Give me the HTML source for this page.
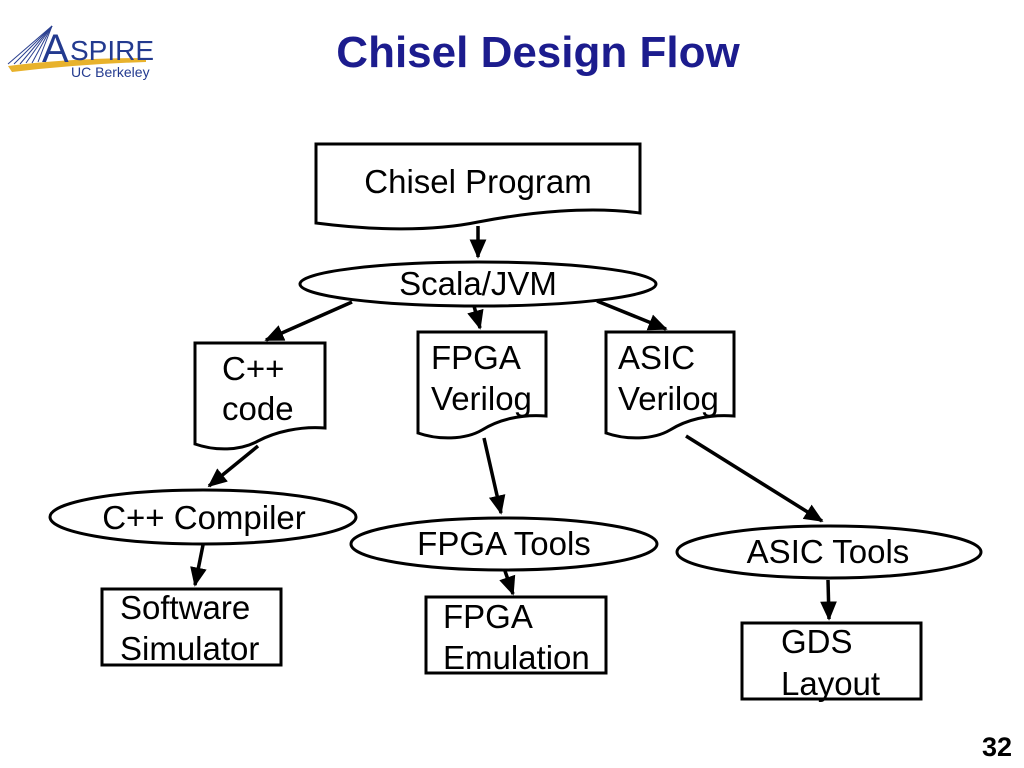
<!DOCTYPE html>
<html><head><meta charset="utf-8"><style>
body{margin:0;background:#fff;}
svg{display:block}
text{font-family:"Liberation Sans",sans-serif;}
</style></head><body>
<svg width="1024" height="768" viewBox="0 0 1024 768" xmlns="http://www.w3.org/2000/svg">
<defs><marker id="a" markerWidth="6" markerHeight="6" refX="5" refY="3" orient="auto" markerUnits="strokeWidth"><path d="M0,0.6 L5.5,3 L0,5.4 Z" fill="#000"/></marker></defs>
<g>
<path d="M8,66 Q70,58 146,58 L146,62 Q80,64 12,72 Z" fill="#e8b22c"/>
<g stroke="#2a3f8f" stroke-width="1"><line x1="52" y1="26" x2="8" y2="64"/><line x1="52" y1="26" x2="14" y2="64"/><line x1="52" y1="26" x2="20" y2="64"/><line x1="52" y1="26" x2="26" y2="63"/><line x1="52" y1="26" x2="32" y2="63"/><line x1="52" y1="26" x2="38" y2="62"/></g>
<text x="42" y="62" font-family="Liberation Serif,serif" font-size="40" fill="#233a8f">A</text>
<text x="70" y="60" font-family="Liberation Serif,serif" font-size="28" fill="#233a8f">SPIRE</text>
<text x="71" y="77" font-size="14" fill="#233a8f">UC Berkeley</text>
</g>
<text x="538" y="67" text-anchor="middle" font-size="44" font-weight="bold" fill="#1c1c8e">Chisel Design Flow</text>
<text x="1012" y="756" text-anchor="end" font-size="27" font-weight="bold">32</text>
<g fill="#fff" stroke="#000" stroke-width="3">
<path d="M316,144 H640 V213 C590,206 530,212 478,222 C430,232 370,230 316,223 Z"/>
<ellipse cx="478" cy="284" rx="178" ry="22"/>
<path d="M195,343 H325 V428 C300,426 275,432 258,441 C240,451 215,451 195,444 Z"/>
<path d="M418,332 H546 V416 C520,414 498,420 482,430 C465,440 438,440 418,433 Z"/>
<path d="M606,332 H734 V416 C708,414 686,420 670,430 C653,440 626,440 606,433 Z"/>
<ellipse cx="203" cy="517" rx="153" ry="27"/>
<ellipse cx="504" cy="544" rx="153" ry="26"/>
<ellipse cx="829" cy="552" rx="152" ry="26"/>
<rect x="102" y="589" width="179" height="76"/>
<rect x="426" y="597" width="180" height="76"/>
<rect x="742" y="623" width="179" height="76"/>
</g>
<g stroke="#000" stroke-width="3.5" fill="none" marker-end="url(#a)">
<line x1="478" y1="226" x2="478" y2="257"/>
<line x1="352" y1="302" x2="266" y2="340"/>
<line x1="474" y1="306" x2="480" y2="328"/>
<line x1="597" y1="301" x2="666" y2="329"/>
<line x1="258" y1="446" x2="209" y2="486"/>
<line x1="484" y1="438" x2="501" y2="513"/>
<line x1="686" y1="436" x2="822" y2="521"/>
<line x1="203" y1="545" x2="195" y2="585"/>
<line x1="505" y1="571" x2="513" y2="594"/>
<line x1="828" y1="580" x2="829" y2="619"/>
</g>
<g font-size="33" fill="#000">
<text x="478" y="193" text-anchor="middle">Chisel Program</text>
<text x="478" y="295" text-anchor="middle">Scala/JVM</text>
<text x="222" y="380">C++</text><text x="222" y="420">code</text>
<text x="431" y="369">FPGA</text><text x="431" y="410">Verilog</text>
<text x="618" y="369">ASIC</text><text x="618" y="410">Verilog</text>
<text x="204" y="529" text-anchor="middle">C++ Compiler</text>
<text x="504" y="555" text-anchor="middle">FPGA Tools</text>
<text x="828" y="563" text-anchor="middle">ASIC Tools</text>
<text x="120" y="619">Software</text><text x="120" y="660">Simulator</text>
<text x="443" y="628">FPGA</text><text x="443" y="669">Emulation</text>
<text x="781" y="653">GDS</text><text x="781" y="695">Layout</text>
</g>
</svg>
</body></html>
